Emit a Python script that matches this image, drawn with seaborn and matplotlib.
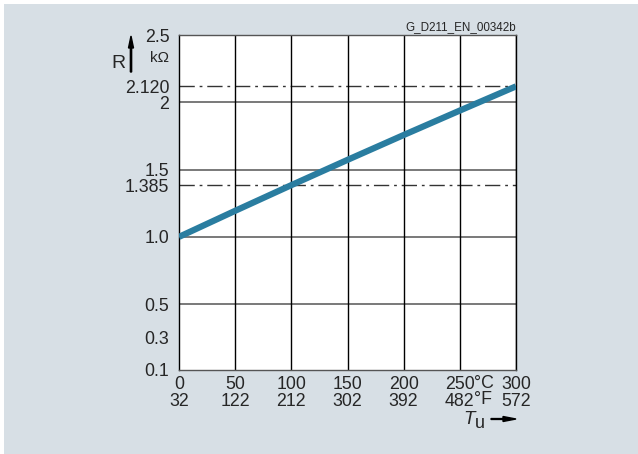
import numpy as np
import pandas as pd
import matplotlib
matplotlib.use("Agg")
import matplotlib.pyplot as plt
import seaborn as sns
from matplotlib.patches import Rectangle, FancyArrow

# ---- data ----
temp_c = [0, 50, 100, 150, 200, 250, 300]
resistance_kohm = [1.000, 1.194, 1.385, 1.573, 1.758, 1.940, 2.120]
x_ticks = [0, 50, 100, 150, 200, 250, 300]
x_labels_f = ["32", "122", "212", "302", "392", "482", "572"]
y_ticks = [0.1, 0.3, 0.5, 1.0, 1.385, 1.5, 2.0, 2.12, 2.5]
y_labels = ["0.1", "0.3", "0.5", "1.0", "1.385", "1.5", "2", "2.120", "2.5"]
y_solid = [0.5, 1.0, 1.5, 2.0]
y_dashdot = [1.385, 2.12]
chart_id = "G_D211_EN_00342b"

sns.set_style("white")
plt.rcParams["font.family"] = ["Liberation Sans", "DejaVu Sans"]

W, H = 638, 454
FS = 12.8
fig = plt.figure(figsize=(W / 100, H / 100), dpi=100)
fig.patch.set_facecolor("white")
fig.patches.append(Rectangle((4 / W, 0), 1, (H - 4) / H, transform=fig.transFigure,
                             facecolor="#D7DFE5", edgecolor="none", zorder=-10))

ax = fig.add_axes([179 / W, 1 - 370 / H, (516 - 179) / W, (370 - 35.3) / H])
ax.set_facecolor("white")

# piecewise-linear vertical scale as in the original
sv = np.array([0.1, 0.5, 2.5])
sp = np.array([0.0, 66.0, 335.0])
def fwd(v):
    return np.interp(np.asarray(v, dtype=float), sv, sp)
def inv(p):
    return np.interp(np.asarray(p, dtype=float), sp, sv)
ax.set_yscale("function", functions=(fwd, inv))

df = pd.DataFrame({"T": temp_c, "R": resistance_kohm})

# grid lines
for yv in y_solid:
    ax.axhline(yv, color="#555555", lw=1.1, zorder=1)
for yv in y_dashdot:
    ax.axhline(yv, color="#333333", lw=1.0, dashes=(11, 3.5, 2, 3.5), zorder=1)
for xv in x_ticks[1:]:
    ax.axvline(xv, color="black", lw=1.0, zorder=1)

sns.lineplot(data=df, x="T", y="R", ax=ax, color="#2A7DA0", lw=4.5,
             solid_capstyle="butt", zorder=3)

ax.set_xlim(0, 300)
ax.set_ylim(0.1, 2.5)
ax.set_xticks(x_ticks)
ax.set_xticklabels([f"{c}\n{f}" for c, f in zip(x_ticks, x_labels_f)], fontsize=FS,
                   linespacing=0.95)
ax.set_yticks(y_ticks)
ax.set_yticklabels(y_labels, fontsize=FS)
ax.minorticks_off()
ax.tick_params(axis="y", direction="out", length=6, width=1.0, color="#555555", pad=1)
ax.tick_params(axis="x", direction="out", length=3, width=1.0, color="#555555", pad=1.5)
ax.set_xlabel("")
ax.set_ylabel("")

ax.spines["left"].set_color("black")
ax.spines["right"].set_color("black")
ax.spines["top"].set_color("#555555")
ax.spines["bottom"].set_color("#555555")
for s in ax.spines.values():
    s.set_linewidth(1.0)
    s.set_visible(True)

# degree units after the 250 label
ax.annotate("°C\n°F", xy=(250, 0), xycoords=("data", "axes fraction"),
            xytext=(10.5, -3.7), textcoords="offset points", ha="left", va="top",
            fontsize=FS, linespacing=0.95)

# y label R with arrow and unit
fig.text(118 / W, 1 - 63 / H, "R", fontsize=14, ha="center", va="center")
fig.text(160 / W, 1 - 58 / H, "kΩ", fontsize=11, ha="center", va="center")
fig.patches.append(FancyArrow(131 / W, 1 - 72 / H, 0, 36 / H, width=0.9 / H,
                              head_width=5 / W, head_length=12 / H,
                              length_includes_head=True, transform=fig.transFigure,
                              color="black"))

# x label T_u with arrow
fig.text(469 / W, 1 - 420 / H, "T", fontsize=13.5, style="italic", ha="center", va="center")
fig.text(480 / W, 1 - 423 / H, "u", fontsize=13, ha="center", va="center")
fig.patches.append(FancyArrow(491 / W, 1 - 419 / H, 25 / W, 0, width=0.9 / H,
                              head_width=5 / H, head_length=13 / W,
                              length_includes_head=True, transform=fig.transFigure,
                              color="black"))

fig.text(516 / W, 1 - 27 / H, chart_id, fontsize=8.4, ha="right", va="center")

fig.savefig("out.png", dpi=100)
